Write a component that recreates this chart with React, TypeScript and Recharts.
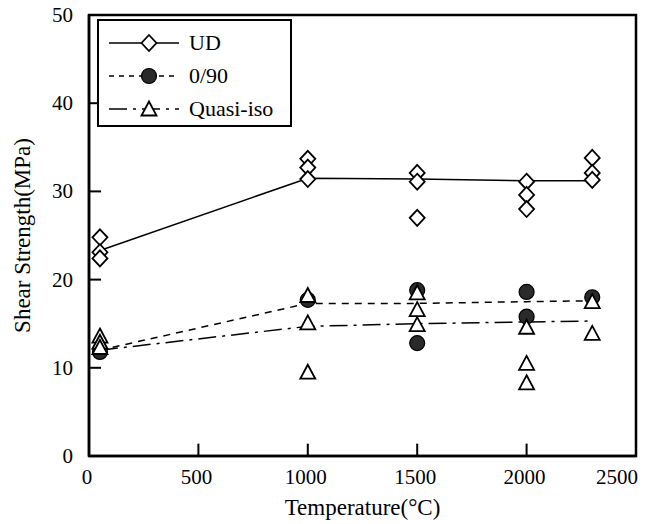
import React from "react";
import {
  ComposedChart,
  Scatter,
  XAxis,
  YAxis,
  ReferenceArea,
  ReferenceLine,
} from "recharts";

const temps = [50, 1000, 1500, 2000, 2300];
const xTicks = [0, 500, 1000, 1500, 2000, 2500];
const yTicks = [0, 10, 20, 30, 40, 50];

// fitted lines (drawn through each temperature group)
const udLine = [23.3, 31.5, 31.4, 31.2, 31.2];
const cpLine = [12.0, 17.3, 17.3, 17.5, 17.6];
const qiLine = [12.0, 14.7, 15.0, 15.2, 15.3];

// individual specimens per temperature
const udSamples = [
  [24.8, 23.1, 22.4],
  [33.7, 32.7, 31.4],
  [32.1, 31.1, 27.0],
  [31.1, 29.6, 28.0],
  [33.8, 32.1, 31.3],
];
const cpSamples = [[11.8], [17.7], [18.8, 12.8], [18.6, 15.8], [18.0]];
const qiSamples = [
  [13.6, 12.9, 12.3],
  [18.2, 15.1, 9.5],
  [18.5, 16.6, 14.9],
  [14.6, 10.5, 8.3],
  [17.5, 13.9],
];

const toLine = (vals: number[]) => temps.map((t, i) => ({ x: t, y: vals[i] }));
const toPoints = (groups: number[][]) =>
  groups.flatMap((g, i) => g.map((v) => ({ x: temps[i], y: v })));

const FONT = "'Liberation Serif', 'Times New Roman', serif";
const X_MARGIN = 12;
const Y_MARGIN = 16;
// inward tick length, in axis units
const X_TICK_LEN = 1.4; // MPa
const Y_TICK_LEN = 55; // °C

const Diamond = (props: any) => {
  const { cx, cy } = props;
  if (cx == null || cy == null) return null;
  return (
    <path
      d={`M${cx},${cy - 8} L${cx + 7.5},${cy} L${cx},${cy + 8} L${cx - 7.5},${cy} Z`}
      fill="#fff"
      stroke="#000"
      strokeWidth={1.8}
    />
  );
};

const Dot = (props: any) => {
  const { cx, cy } = props;
  if (cx == null || cy == null) return null;
  return <circle cx={cx} cy={cy} r={7.5} fill="#2a2a2a" stroke="#000" strokeWidth={1.2} />;
};

const Tri = (props: any) => {
  const { cx, cy } = props;
  if (cx == null || cy == null) return null;
  return (
    <path
      d={`M${cx},${cy - 7.5} L${cx + 7.5},${cy + 6.5} L${cx - 7.5},${cy + 6.5} Z`}
      fill="#fff"
      stroke="#000"
      strokeWidth={1.8}
    />
  );
};

const NoShape = () => null;

const XTick = (props: any) => {
  const { x, y, payload } = props;
  const last = payload.value === 2500;
  return (
    <text
      x={last ? x + 2 : x - 2}
      y={y + 16}
      textAnchor={last ? "end" : "middle"}
      fontSize={21}
      fontFamily={FONT}
      fill="#000"
    >
      {payload.value}
    </text>
  );
};

const YTick = (props: any) => {
  const { x, y, payload } = props;
  return (
    <text x={x} y={y + 7} textAnchor="end" fontSize={21} fontFamily={FONT} fill="#000">
      {payload.value}
    </text>
  );
};

const LegendBox = () => {
  const rows = [
    { name: "UD", dash: undefined, mark: "d" },
    { name: "0/90", dash: "5 5", mark: "c" },
    { name: "Quasi-iso", dash: "18 6 3 6", mark: "t" },
  ];
  return (
    <div
      style={{
        position: "absolute",
        left: 97,
        top: 19,
        width: 195,
        height: 108,
        border: "2.5px solid #000",
        boxSizing: "border-box",
        background: "#fff",
        fontFamily: FONT,
      }}
    >
      <svg width={190} height={103} style={{ display: "block" }}>
        {rows.map((r, i) => {
          const y = 22 + i * 33;
          return (
            <g key={r.name}>
              <line x1={10} x2={80} y1={y} y2={y} stroke="#000" strokeWidth={1.5} strokeDasharray={r.dash} />
              {r.mark === "d" && <Diamond cx={50} cy={y} />}
              {r.mark === "c" && <Dot cx={50} cy={y} />}
              {r.mark === "t" && <Tri cx={50} cy={y} />}
              <text x={90} y={y + 7} fontSize={22} fontFamily={FONT} fill="#000">
                {r.name}
              </text>
            </g>
          );
        })}
      </svg>
    </div>
  );
};

export default function App() {
  return (
    <div style={{ position: "absolute", left: 0, top: 0, width: 656, height: 524, background: "#fff" }}>
      <ComposedChart width={656} height={524} margin={{ top: 15, right: 20, bottom: 6, left: 0 }}>
        <XAxis
          type="number"
          dataKey="x"
          domain={[0, 2500]}
          ticks={xTicks}
          height={62}
          tickSize={0}
          tickMargin={X_MARGIN}
          tick={<XTick />}
          tickLine={false}
          axisLine={{ stroke: "#000", strokeWidth: 2.5 }}
          allowDataOverflow
          label={{
            value: "Temperature(°C)",
            position: "insideBottom",
            offset: 3,
            style: { fontSize: 23, fill: "#000", fontFamily: FONT },
          }}
        />
        <YAxis
          type="number"
          dataKey="y"
          domain={[0, 50]}
          ticks={yTicks}
          width={89}
          tickSize={0}
          tickMargin={Y_MARGIN}
          tick={<YTick />}
          tickLine={false}
          axisLine={{ stroke: "#000", strokeWidth: 2.5 }}
          allowDataOverflow
          label={{
            value: "Shear Strength(MPa)",
            angle: -90,
            position: "insideLeft",
            offset: 22,
            style: { fontSize: 23, fill: "#000", fontFamily: FONT, textAnchor: "middle" },
          }}
        />
        <ReferenceArea x1={0} x2={2500} y1={0} y2={50} fill="none" stroke="#000" strokeWidth={2.5} ifOverflow="visible" />
        {xTicks.slice(1, -1).map((t) => (
          <ReferenceLine
            key={`xt${t}`}
            segment={[{ x: t, y: 0 }, { x: t, y: X_TICK_LEN }]}
            stroke="#000"
            strokeWidth={2}
          />
        ))}
        {yTicks.slice(1, -1).map((t) => (
          <ReferenceLine
            key={`yt${t}`}
            segment={[{ x: 0, y: t }, { x: Y_TICK_LEN, y: t }]}
            stroke="#000"
            strokeWidth={2}
          />
        ))}
        <Scatter
          data={toLine(udLine)}
          line={{ stroke: "#000", strokeWidth: 1.5 }}
          shape={NoShape}
          isAnimationActive={false}
        />
        <Scatter
          data={toLine(cpLine)}
          line={{ stroke: "#000", strokeWidth: 1.5, strokeDasharray: "7 6" }}
          shape={NoShape}
          isAnimationActive={false}
        />
        <Scatter
          data={toLine(qiLine)}
          line={{ stroke: "#000", strokeWidth: 1.5, strokeDasharray: "18 6 3 6" }}
          shape={NoShape}
          isAnimationActive={false}
        />
        <Scatter data={toPoints(udSamples)} shape={Diamond} isAnimationActive={false} />
        <Scatter data={toPoints(cpSamples)} shape={Dot} isAnimationActive={false} />
        <Scatter data={toPoints(qiSamples)} shape={Tri} isAnimationActive={false} />
      </ComposedChart>
      <LegendBox />
    </div>
  );
}
